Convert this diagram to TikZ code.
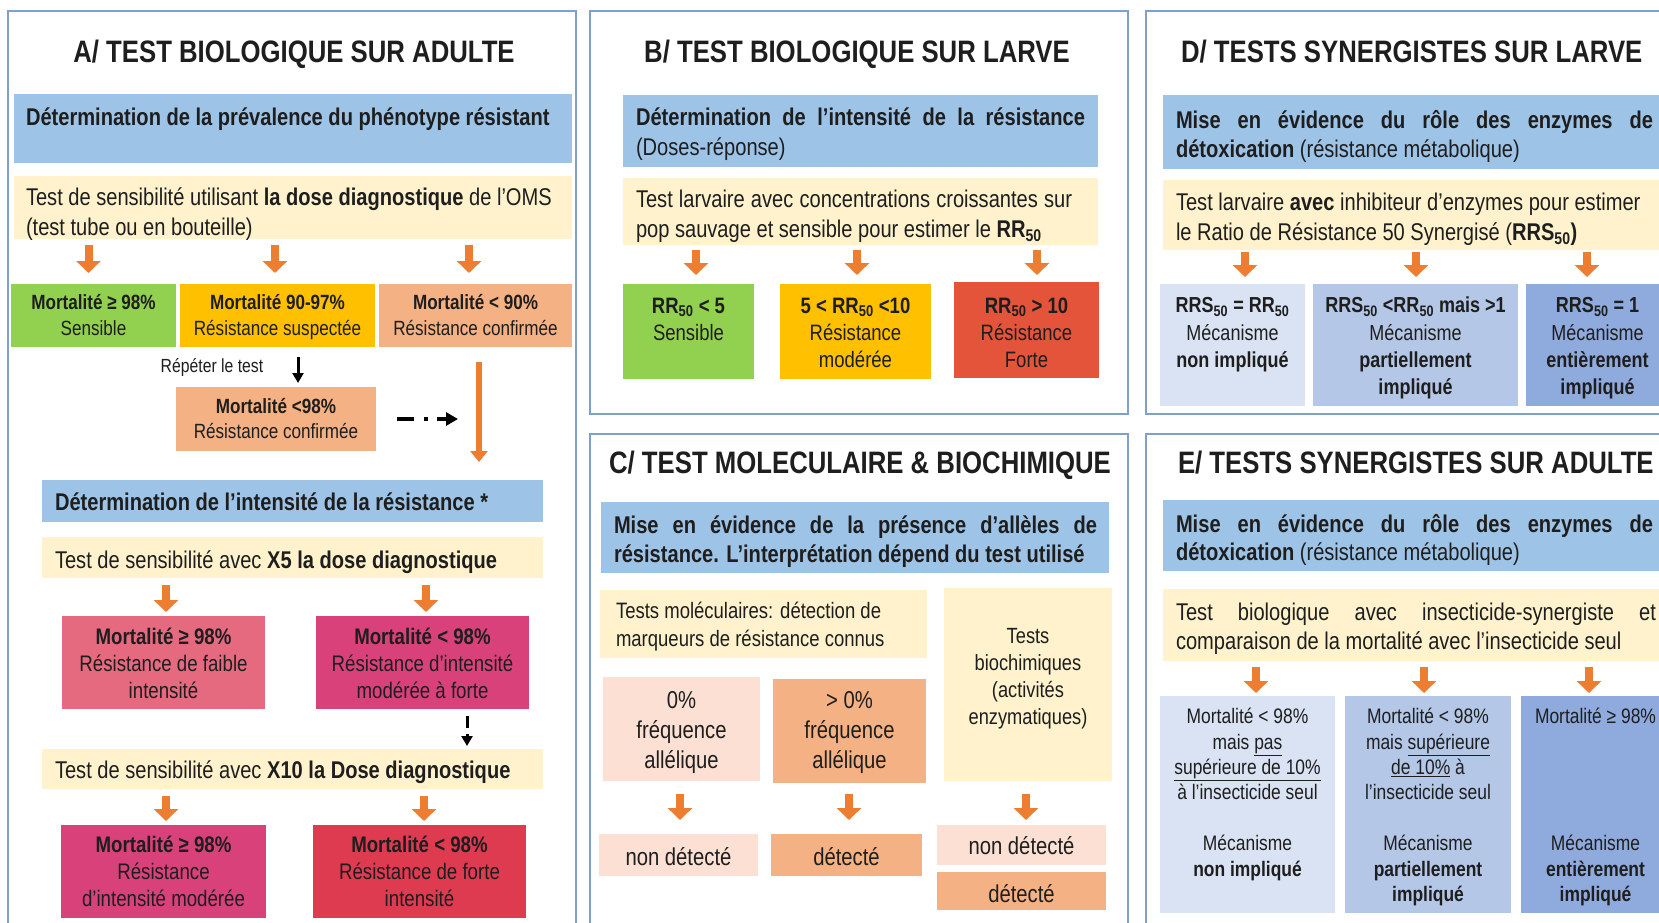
\documentclass[tikz,border=0pt]{standalone}
\usepackage{fontspec}
\setmainfont{Liberation Sans}[FakeStretch=0.83]
\usetikzlibrary{arrows.meta}
\definecolor{framec}{HTML}{7F9FCC}
\definecolor{hdr}{HTML}{9DC3E6}
\definecolor{cream}{HTML}{FFF2CC}
\definecolor{arrorange}{HTML}{ED7D31}
\definecolor{okgreen}{HTML}{92D050}
\definecolor{warnyellow}{HTML}{FFC000}
\definecolor{salmon}{HTML}{F4B183}
\definecolor{lsalmon}{HTML}{FBE0D3}
\definecolor{pinkA}{HTML}{E56A80}
\definecolor{magA}{HTML}{D9417A}
\definecolor{redA}{HTML}{DE3A50}
\definecolor{redB}{HTML}{E4543A}
\definecolor{blueL}{HTML}{DAE3F3}
\definecolor{blueM}{HTML}{B4C7E7}
\definecolor{blueDk}{HTML}{8FAADC}
\definecolor{textc}{HTML}{1E1E1E}
\newcommand\tstrut{\vrule height 0.8em depth 0pt width 0pt}
\newcommand\mkbox[6]{\node[bx, fill=#2, minimum width={#5-#3}, minimum height={#6-#4}] (#1) at ({(#3+#5)/2},{(#4+#6)/2}) {};}
\tikzset{
  frame/.style={draw=framec, line width=1.5pt},
  bx/.style={inner sep=0pt, outer sep=0pt, draw=none},
  txt/.style={inner sep=0pt, outer sep=0pt, text=textc},
  oar/.style={draw=arrorange, line width=8pt, -{Triangle[width=24pt,length=12pt]}},
  olong/.style={draw=arrorange, line width=5.5pt, -{Triangle[width=17pt,length=11pt]}},
  blk/.style={draw=black, line width=3pt, -{Triangle[width=11pt,length=10pt]}},
  ftitle/.style={font=\fontsize{31}{36}\selectfont\bfseries},
  fbody/.style={font=\fontsize{24.2}{29.6}\selectfont},
  fAone/.style={font=\fontsize{20.6}{25.4}\selectfont},
  fApink/.style={font=\fontsize{22.5}{27}\selectfont},
  fB/.style={font=\fontsize{22.3}{27}\selectfont},
  fCmol/.style={font=\fontsize{22.3}{28.6}\selectfont},
  fCbio/.style={font=\fontsize{22}{27}\selectfont},
  fCres/.style={font=\fontsize{24.4}{29.6}\selectfont},
  fD/.style={font=\fontsize{21.7}{27.3}\selectfont},
  fE/.style={font=\fontsize{21}{25.4}\selectfont},
  fsmall/.style={font=\fontsize{19}{23}\selectfont},
}
\begin{document}
\begin{tikzpicture}[x=1pt,y=-1pt]
\path[use as bounding box] (0,0) rectangle (1659,923);
\clip (0,0) rectangle (1659,923);
\fill[white] (0,0) rectangle (1659,923);

% frames
\draw[frame] (8,11) rectangle (576,940);
\draw[frame] (590,11) rectangle (1128,414);
\draw[frame] (590,434) rectangle (1128,940);
\draw[frame] (1146,11) rectangle (1680,414);
\draw[frame] (1146,434) rectangle (1680,940);

% ===== Panel A =====
\node[txt,ftitle,anchor=base] (titA) at (294,62.2) {A/ TEST BIOLOGIQUE SUR ADULTE};
\mkbox{hA1}{hdr}{14}{94}{572}{163}
\node[txt,fbody,anchor=base west] (thA1) at (26,125.6) {\textbf{Détermination de la prévalence du phénotype résistant}};
\mkbox{cA1}{cream}{14}{176}{572}{239}
\node[txt,fbody,anchor=north west,align=left] (tcA1) at (26,186.4) {\tstrut Test de sensibilité utilisant \textbf{la dose diagnostique} de l’OMS\\(test tube ou en bouteille)};
\mkbox{gA}{okgreen}{11}{284}{176}{347}
\mkbox{yA}{warnyellow}{180}{284}{375}{347}
\mkbox{sA}{salmon}{379}{284}{572}{347}
\node[txt,fAone,anchor=north,align=center] (tgA) at (93.5,293.5) {\tstrut\textbf{Mortalité ≥ 98\%}\\Sensible};
\node[txt,fAone,anchor=north,align=center] (tyA) at (277.5,293.5) {\tstrut\textbf{Mortalité 90-97\%}\\Résistance suspectée};
\node[txt,fAone,anchor=north,align=center] (tsA) at (475.5,293.5) {\tstrut\textbf{Mortalité < 90\%}\\Résistance confirmée};
\draw[oar,shorten <=6pt,shorten >=11pt] ([xshift=-5pt]gA.north |- cA1.south) -- ([xshift=-5pt]gA.north);
\draw[oar,shorten <=6pt,shorten >=11pt] ([xshift=-2.5pt]yA.north |- cA1.south) -- ([xshift=-2.5pt]yA.north);
\draw[oar,shorten <=6pt,shorten >=11pt] ([xshift=-6.5pt]sA.north |- cA1.south) -- ([xshift=-6.5pt]sA.north);
\node[txt,fsmall,anchor=base] (trep) at (212,372.8) {Répéter le test};
\mkbox{sA2}{salmon}{176}{387}{376}{451}
\node[txt,fAone,anchor=north,align=center] (tsA2) at (276,396.9) {\tstrut\textbf{Mortalité <98\%}\\Résistance confirmée};
\draw[blk,shorten <=10pt,shorten >=4pt] ([xshift=20.5pt]yA.south) -- ([xshift=20.5pt]yA.south |- sA2.north);
\coordinate (ddend) at (458,419);
\draw[blk,line width=3.5pt,dash pattern=on 17pt off 10pt on 4pt off 9pt,shorten <=21pt,-{Triangle[width=13pt,length=12pt]}] (sA2.east) -- (ddend);
\mkbox{hA2}{hdr}{42}{480}{543}{522}
\draw[olong,shorten <=15pt,shorten >=18pt] ([xshift=3.5pt]sA.south) -- ([xshift=3.5pt]sA.south |- hA2.north);
\node[txt,fbody,anchor=base west] (thA2) at (55,510.1) {\textbf{Détermination de l’intensité de la résistance *}};
\mkbox{cA2}{cream}{42}{537}{543}{578}
\node[txt,fbody,anchor=base west] (tcA2) at (55,568.6) {Test de sensibilité avec \textbf{X5 la dose diagnostique}};
\mkbox{pA}{pinkA}{62}{616}{265}{709}
\mkbox{mA}{magA}{316}{616}{529}{709}
\node[txt,fApink,anchor=north,align=center] (tpA) at (163.5,626.1) {\tstrut\textbf{Mortalité ≥ 98\%}\\Résistance de faible\\intensité};
\node[txt,fApink,anchor=north,align=center] (tmA) at (422.5,626.1) {\tstrut\textbf{Mortalité < 98\%}\\Résistance d’intensité\\modérée à forte};
\draw[oar,shorten <=7pt,shorten >=4pt] ([xshift=2.5pt]pA.north |- cA2.south) -- ([xshift=2.5pt]pA.north);
\draw[oar,shorten <=7pt,shorten >=4pt] ([xshift=3.5pt]mA.north |- cA2.south) -- ([xshift=3.5pt]mA.north);
\mkbox{cA3}{cream}{42}{749}{543}{789}
\node[txt,fbody,anchor=base west] (tcA3) at (55,778.6) {Test de sensibilité avec \textbf{X10 la Dose diagnostique}};
\draw[blk,dash pattern=on 12pt off 6pt,shorten <=7pt,shorten >=3pt] ([xshift=44.5pt]mA.south) -- ([xshift=44.5pt]mA.south |- cA3.north);
\mkbox{mA2}{magA}{61}{825}{266}{918}
\mkbox{rA}{redA}{313}{825}{526}{918}
\node[txt,fApink,anchor=north,align=center] (tmA2) at (163.5,834.1) {\tstrut\textbf{Mortalité ≥ 98\%}\\Résistance\\d’intensité modérée};
\node[txt,fApink,anchor=north,align=center] (trA) at (419.5,834.1) {\tstrut\textbf{Mortalité < 98\%}\\Résistance de forte\\intensité};
\draw[oar,shorten <=7pt,shorten >=4pt] ([xshift=2.5pt]mA2.north |- cA3.south) -- ([xshift=2.5pt]mA2.north);
\draw[oar,shorten <=7pt,shorten >=4pt] ([xshift=4.5pt]rA.north |- cA3.south) -- ([xshift=4.5pt]rA.north);

% ===== Panel B =====
\node[txt,ftitle,anchor=base] (titB) at (857,62.2) {B/ TEST BIOLOGIQUE SUR LARVE};
\mkbox{hB}{hdr}{623}{95}{1098}{167}
\node[txt,fbody,anchor=base west] (thB1) at (636,125.6) {\makebox[449pt][s]{\textbf{Détermination de l’intensité de la résistance}}};
\node[txt,fbody,anchor=base west] (thB2) at (636,155.6) {(Doses-réponse)};
\mkbox{cB}{cream}{623}{178}{1098}{245}
\node[txt,fbody,anchor=base west] (tcB1) at (636,207.6) {\makebox[436pt][s]{Test larvaire avec concentrations croissantes sur}};
\node[txt,fbody,anchor=base west] (tcB2) at (636,237.6) {pop sauvage et sensible pour estimer le \textbf{RR\textsubscript{50}}};
\mkbox{gB}{okgreen}{623}{284}{754}{379}
\mkbox{yB}{warnyellow}{780}{284}{931}{379}
\mkbox{rB}{redB}{954}{282}{1099}{378}
\node[txt,fB,anchor=north,align=center] (tgB) at (688.5,295.2) {\tstrut\textbf{RR\textsubscript{50} < 5}\\Sensible};
\node[txt,fB,anchor=north,align=center] (tyB) at (855.5,295.2) {\tstrut\textbf{5 < RR\textsubscript{50} <10}\\Résistance\\modérée};
\node[txt,fB,anchor=north,align=center] (trB) at (1026.5,295.2) {\tstrut\textbf{RR\textsubscript{50} > 10}\\Résistance\\Forte};
\draw[oar,shorten <=5pt,shorten >=9pt] ([xshift=7.5pt]gB.north |- cB.south) -- ([xshift=7.5pt]gB.north);
\draw[oar,shorten <=5pt,shorten >=9pt] ([xshift=1.5pt]yB.north |- cB.south) -- ([xshift=1.5pt]yB.north);
\draw[oar,shorten <=5pt,shorten >=9pt] ([xshift=10.5pt]rB.north |- cB.south) -- ([xshift=10.5pt]rB.north |- gB.north);

% ===== Panel C =====
\node[txt,ftitle,anchor=base] (titC) at (860,473.2) {C/ TEST MOLECULAIRE \& BIOCHIMIQUE};
\mkbox{hC}{hdr}{601}{502}{1109}{573}
\node[txt,fbody,anchor=base west] (thC1) at (614,533.6) {\makebox[483pt][s]{\textbf{Mise en évidence de la présence d’allèles de}}};
\node[txt,fbody,anchor=base west] (thC2) at (614,562.6) {\textbf{résistance. L’interprétation dépend du test utilisé}};
\mkbox{cC1}{cream}{600}{590}{927}{658}
\node[txt,fCmol,anchor=north west,align=left] (tcC1) at (616,600.2) {\tstrut Tests moléculaires: détection de\\marqueurs de résistance connus};
\mkbox{cC2}{cream}{944}{588}{1112}{781}
\node[txt,fCbio,anchor=north,align=center] (tcC2) at (1028,626.3) {\tstrut Tests\\biochimiques\\(activités\\enzymatiques)};
\mkbox{lC}{lsalmon}{603}{677}{760}{781}
\mkbox{sC}{salmon}{773}{679}{926}{783}
\node[txt,fCres,anchor=north,align=center] (tlC) at (681.5,689.3) {\tstrut 0\%\\fréquence\\allélique};
\node[txt,fCres,anchor=north,align=center] (tsC) at (849.5,689.3) {\tstrut > 0\%\\fréquence\\allélique};
\mkbox{lC2}{lsalmon}{599}{834}{758}{876}
\mkbox{sC2}{salmon}{771}{834}{922}{876}
\mkbox{lC3}{lsalmon}{937}{825}{1106}{865}
\mkbox{sC3}{salmon}{937}{872}{1106}{910}
\node[txt,fCres,anchor=base] (tlC2) at (678.5,865.8) {non détecté};
\node[txt,fCres,anchor=base] (tsC2) at (846.5,865.8) {détecté};
\node[txt,fCres,anchor=base] (tlC3) at (1021.5,854.8) {non détecté};
\node[txt,fCres,anchor=base] (tsC3) at (1021.5,902.8) {détecté};
\draw[oar,shorten <=13pt,shorten >=14pt] ([xshift=-1.5pt]lC.south) -- ([xshift=-1.5pt]lC.south |- lC2.north);
\draw[oar,shorten <=11pt,shorten >=14pt] ([xshift=-0.5pt]sC.south) -- ([xshift=-0.5pt]sC.south |- sC2.north);
\draw[oar,shorten <=13pt,shorten >=5pt] ([xshift=-2pt]cC2.south) -- ([xshift=-2pt]cC2.south |- lC3.north);

% ===== Panel D =====
\node[txt,ftitle,anchor=base west] (titD) at (1181,62.2) {D/ TESTS SYNERGISTES SUR LARVE};
\mkbox{hD}{hdr}{1163}{95}{1675}{169}
\node[txt,fbody,anchor=base west] (thD1) at (1176,128.6) {\makebox[477pt][s]{\textbf{Mise en évidence du rôle des enzymes de}}};
\node[txt,fbody,anchor=base west] (thD2) at (1176,157.6) {\textbf{détoxication} (résistance métabolique)};
\mkbox{cD}{cream}{1163}{180}{1675}{250}
\node[txt,fbody,anchor=base west] (tcD1) at (1176,210.6) {Test larvaire \textbf{avec} inhibiteur d’enzymes pour estimer};
\node[txt,fbody,anchor=base west] (tcD2) at (1176,240.6) {le Ratio de Résistance 50 Synergisé (\textbf{RRS\textsubscript{50})}};
\mkbox{D1}{blueL}{1160}{284}{1305}{406}
\mkbox{D2}{blueM}{1313}{284}{1518}{406}
\mkbox{D3}{blueDk}{1526}{284}{1675}{406}
\node[txt,fD,anchor=north,align=center] (tD1) at (1232.5,295.5) {\tstrut\textbf{RRS\textsubscript{50} = RR\textsubscript{50}}\\Mécanisme\\\textbf{non impliqué}};
\node[txt,fD,anchor=north,align=center] (tD2) at (1415.5,295.5) {\tstrut\textbf{RRS\textsubscript{50} <RR\textsubscript{50} mais >1}\\Mécanisme\\\textbf{partiellement}\\\textbf{impliqué}};
\node[txt,fD,anchor=north,align=center] (tD3) at (1597.5,295.5) {\tstrut\textbf{RRS\textsubscript{50} = 1}\\Mécanisme\\\textbf{entièrement}\\\textbf{impliqué}};
\draw[oar,shorten <=2pt,shorten >=7pt] ([xshift=12.5pt]D1.north |- cD.south) -- ([xshift=12.5pt]D1.north);
\draw[oar,shorten <=2pt,shorten >=7pt] ([xshift=0.5pt]D2.north |- cD.south) -- ([xshift=0.5pt]D2.north);
\draw[oar,shorten <=2pt,shorten >=7pt] ([xshift=-13.5pt]D3.north |- cD.south) -- ([xshift=-13.5pt]D3.north);

% ===== Panel E =====
\node[txt,ftitle,anchor=base west] (titE) at (1178,473.2) {E/ TESTS SYNERGISTES SUR ADULTE};
\mkbox{hE}{hdr}{1163}{500}{1675}{571}
\node[txt,fbody,anchor=base west] (thE1) at (1176,532.6) {\makebox[477pt][s]{\textbf{Mise en évidence du rôle des enzymes de}}};
\node[txt,fbody,anchor=base west] (thE2) at (1176,560.6) {\textbf{détoxication} (résistance métabolique)};
\mkbox{cE}{cream}{1163}{589}{1675}{661}
\node[txt,fbody,anchor=base west] (tcE1) at (1176,620.6) {\makebox[480pt][s]{Test biologique avec insecticide-synergiste et}};
\node[txt,fbody,anchor=base west] (tcE2) at (1176,649.6) {comparaison de la mortalité avec l’insecticide seul};
\mkbox{E1}{blueL}{1160}{696}{1335}{913}
\mkbox{E2}{blueM}{1345}{696}{1511}{913}
\mkbox{E3}{blueDk}{1521}{696}{1675}{913}
\node[txt,fE,anchor=north,align=center] (tE1) at (1247.5,706.8) {\tstrut Mortalité < 98\%\\mais \underline{pas}\\\underline{supérieure de 10\%}\\à l’insecticide seul\\[25.4pt]Mécanisme\\\textbf{non impliqué}};
\node[txt,fE,anchor=north,align=center] (tE2) at (1428,706.8) {\tstrut Mortalité < 98\%\\mais \underline{supérieure}\\\underline{de 10\%} à\\l’insecticide seul\\[25.4pt]Mécanisme\\\textbf{partiellement}\\\textbf{impliqué}};
\node[txt,fE,anchor=north,align=center] (tE3a) at (1595.5,706.8) {\tstrut Mortalité ≥ 98\%};
\node[txt,fE,anchor=north,align=center] (tE3b) at (1595.5,833.8) {\tstrut Mécanisme\\\textbf{entièrement}\\\textbf{impliqué}};
\draw[oar,shorten <=6pt,shorten >=3pt] ([xshift=8.5pt]E1.north |- cE.south) -- ([xshift=8.5pt]E1.north);
\draw[oar,shorten <=6pt,shorten >=3pt] ([xshift=-4pt]E2.north |- cE.south) -- ([xshift=-4pt]E2.north);
\draw[oar,shorten <=6pt,shorten >=3pt] ([xshift=-9pt]E3.north |- cE.south) -- ([xshift=-9pt]E3.north);
\end{tikzpicture}
\end{document}
